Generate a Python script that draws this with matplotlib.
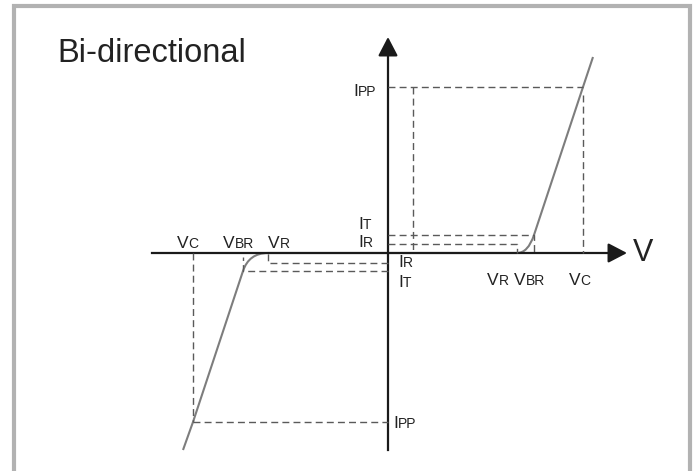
import matplotlib
matplotlib.use("Agg")
import matplotlib.pyplot as plt
from matplotlib.path import Path
from matplotlib.patches import PathPatch

plt.rcParams['font.family'] = ['Liberation Sans', 'DejaVu Sans']

# diagram units (arbitrary, origin at the axes crossing)
# positive (forward) branch
V_R_POS = 129
V_BR_POS = 146
V_C_POS = 195
V_END_POS = 205
I_R_POS = 9
I_T_POS = 18
I_PP_POS = 166
I_END_POS = 196
V_MARK_POS = 25

# negative (reverse) branch
V_R_NEG = -120
V_BR_NEG = -145
V_C_NEG = -195
V_END_NEG = -205
I_R_NEG = -10
I_T_NEG = -18
I_PP_NEG = -169
I_END_NEG = -197

# axis extent
V_AXIS_MIN = -236
V_AXIS_MAX = 239
I_AXIS_MIN = -197
I_AXIS_MAX = 216

AXIS_COL = "#1a1a1a"
CURVE_COL = "#7d7d7d"
DASH_COL = "#5a5a5a"
TEXT_COL = "#222222"

fig = plt.figure(figsize=(6.98, 4.71), dpi=100)
ax = fig.add_axes([0, 0, 1, 1])
ax.set_xlim(-388, 310)
ax.set_ylim(-218, 253)
ax.axis("off")

# outer frame (open at the bottom)
ax.plot([-374, -374, 302, 302], [-240, 247, 247, -240],
        color="#b2b2b2", lw=3.0, solid_joinstyle="miter")

# axes with arrows
ax.plot([V_AXIS_MIN, V_AXIS_MAX - 14], [0, 0], color=AXIS_COL, lw=1.6)
ax.plot([0, 0], [I_AXIS_MIN, I_AXIS_MAX - 14], color=AXIS_COL, lw=1.6)
arrow = dict(arrowstyle="-|>,head_length=11.5,head_width=6", mutation_scale=1,
             color=AXIS_COL, lw=1.6, shrinkA=0, shrinkB=0)
ax.annotate("", xy=(V_AXIS_MAX, 0), xytext=(V_AXIS_MAX - 16, 0), arrowprops=arrow)
ax.annotate("", xy=(0, I_AXIS_MAX), xytext=(0, I_AXIS_MAX - 16), arrowprops=arrow)

# dashed guide lines
dash = dict(color=DASH_COL, lw=1.0, dashes=(5, 3))
ax.plot([0, V_C_POS], [I_PP_POS, I_PP_POS], **dash)
ax.plot([V_MARK_POS, V_MARK_POS], [I_PP_POS, 0], **dash)
ax.plot([V_C_POS, V_C_POS], [I_PP_POS - 8, 0], **dash)
ax.plot([0, V_BR_POS, V_BR_POS], [I_T_POS, I_T_POS, 0], **dash)
ax.plot([0, V_R_POS, V_R_POS], [I_R_POS, I_R_POS, 0], **dash)

ax.plot([0, V_R_NEG, V_R_NEG], [I_R_NEG, I_R_NEG, 0], **dash)
ax.plot([0, V_BR_NEG, V_BR_NEG], [I_T_NEG, I_T_NEG, -4], **dash)
ax.plot([V_C_NEG, V_C_NEG], [0, I_PP_NEG], **dash)
ax.plot([V_C_NEG, 0], [I_PP_NEG, I_PP_NEG], **dash)

# I-V characteristic: flat, knee, then steep line on each side
slope_pos = (I_PP_POS - I_T_POS) / (V_C_POS - V_BR_POS)
slope_neg = (I_PP_NEG - I_T_NEG) / (V_C_NEG - V_BR_NEG)
verts = [
    (V_END_NEG, I_END_NEG),
    (V_C_NEG, I_PP_NEG),
    (V_BR_NEG, I_T_NEG),
    (V_BR_NEG - I_T_NEG / slope_neg, 0), (V_R_NEG, 0),
    (V_R_POS, 0),
    (V_BR_POS - I_T_POS / slope_pos, 0), (V_BR_POS, I_T_POS),
    (V_C_POS, I_PP_POS),
    (V_END_POS, I_END_POS),
]
codes = [Path.MOVETO, Path.LINETO, Path.LINETO, Path.CURVE3, Path.CURVE3,
         Path.LINETO, Path.CURVE3, Path.CURVE3, Path.LINETO, Path.LINETO]
ax.add_patch(PathPatch(Path(verts, codes), facecolor="none",
                       edgecolor=CURVE_COL, lw=1.5, capstyle="butt"))


def sc_label(x, y, big, small, size=12.5):
    """Label drawn as a capital followed by smaller capitals."""
    t = ax.text(x, y, big, fontsize=size, color=TEXT_COL,
                ha="left", va="baseline")
    ax.annotate(small, xy=(1, 0), xycoords=t, fontsize=size * 0.8,
                color=TEXT_COL, ha="left", va="bottom")


# voltage labels
sc_label(V_C_NEG - 16, 5, "V", "C")
sc_label(V_BR_NEG - 20, 5, "V", "BR")
sc_label(V_R_NEG, 5, "V", "R")
sc_label(V_R_POS - 30, -32, "V", "R")
sc_label(V_BR_POS - 20, -32, "V", "BR")
sc_label(V_C_POS - 14, -32, "V", "C")

# current labels
sc_label(-30, I_T_POS + 6, "I", "T")
sc_label(-30, I_R_POS - 3, "I", "R")
sc_label(10, I_R_NEG - 4, "I", "R")
sc_label(10, I_T_NEG - 16, "I", "T")
sc_label(-35, I_PP_POS - 9, "I", "PP")
sc_label(5, I_PP_NEG - 6, "I", "PP")

ax.text(V_AXIS_MAX + 6, -8, "V", fontsize=22, color=TEXT_COL,
        ha="left", va="baseline")
ax.text(-331, 191, "Bi-directional", fontsize=23.5, color=TEXT_COL,
        ha="left", va="baseline")

fig.savefig("out.png", dpi=100)
